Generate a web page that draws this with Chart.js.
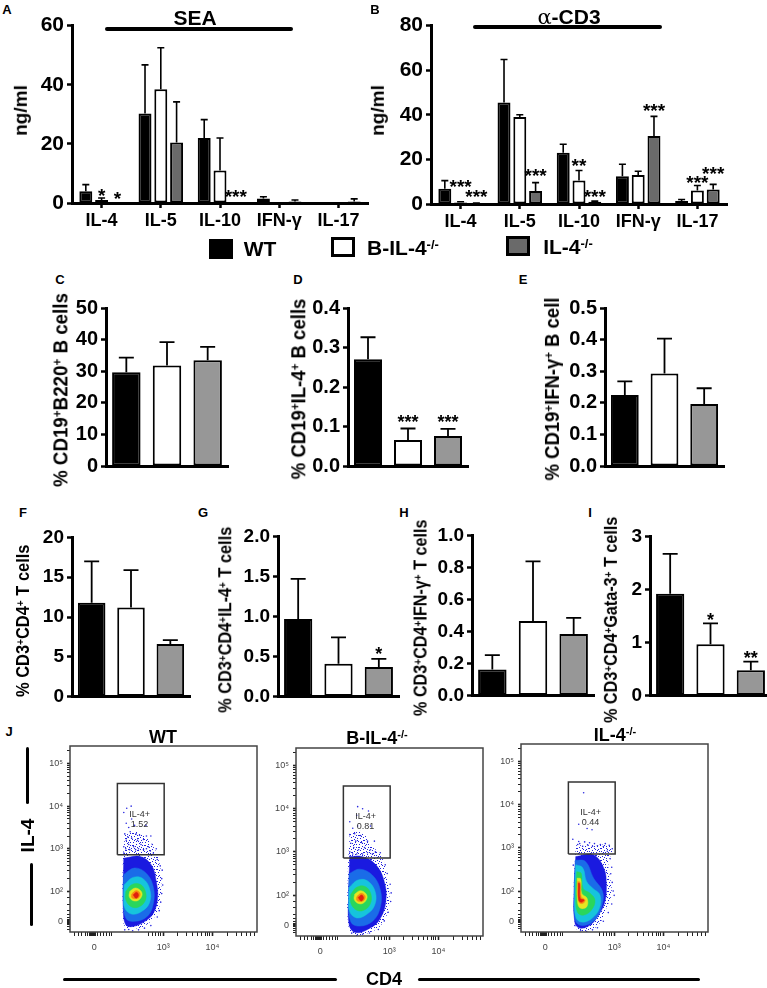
<!DOCTYPE html>
<html><head><meta charset="utf-8">
<script src="https://cdn.jsdelivr.net/npm/chart.js@4"></script>
<style>
html,body{margin:0;padding:0;background:#fff;width:767px;height:988px;overflow:hidden}
#fig{position:relative;width:767px;height:988px;overflow:hidden;font-family:"Liberation Sans",Arial,sans-serif;color:#000}
canvas{position:absolute}
.t{position:absolute;white-space:nowrap;font-weight:bold;line-height:1;transform:translate(-50%,-50%)}
.rot{position:absolute;white-space:nowrap;font-weight:bold;line-height:1}
sup{font-size:.62em;line-height:0;vertical-align:baseline;position:relative;top:-.5em}
.rule{position:absolute;background:#000;border-radius:2px}
.sw{position:absolute;border:3px solid #000;box-sizing:border-box}
</style></head><body><div id="fig"></div>
<script>
// ---------- data ----------
const cytokines=['IL-4','IL-5','IL-10','IFN-γ','IL-17'];
const genotypes=['WT','B-IL-4-/-','IL-4-/-'];

const seaWT=[4,30.3,22,1.5,0];
const seaB=[1,38.5,11,0,0];
const seaKO=[0.2,20.5,0.2,0.5,0.5];
const seaWTTop=[6.2,46.7,28.2,2.1,0];
const seaBTop=[1.7,52.5,22,0,0];
const seaKOTop=[0.2,34.2,0.2,1,1.4];
const seaBStars=['*','','','',''];
const seaBStarAt=[3.4,0,0,0,0];
const seaKOStars=['*','','***','',''];
const seaKOStarAt=[2.4,0,3,0,0];

const cd3WT=[6.8,45.5,23,12.5,1.3];
const cd3B=[0.7,39,10.5,13,6];
const cd3KO=[0.3,5.8,1,30.5,6.5];
const cd3WTTop=[10.5,64.8,26.8,17.8,2];
const cd3BTop=[1,40,15,14.7,8.3];
const cd3KOTop=[0.4,9.6,1.3,39.3,8.8];
const cd3BStars=['***','','**','','***'];
const cd3BStarAt=[8.9,0,18.2,0,11];
const cd3KOStars=['***','***','***','***','***'];
const cd3KOStarAt=[4.4,13.8,4.4,43,14.7];

const cValues=[29.7,31.8,33.5],cTops=[34.3,39.2,37.7];
const dValues=[0.27,0.066,0.076],dTops=[0.326,0.095,0.094],dStars=['','***','***'],dStarAt=[0,0.118,0.118];
const eValues=[0.225,0.293,0.196],eTops=[0.268,0.403,0.246];
const fValues=[11.8,11.2,6.6],fTops=[17,15.9,7.1];
const gValues=[0.97,0.41,0.37],gTops=[1.47,0.74,0.47],gStars=['','','*'],gStarAt=[0,0,0.57];
const hValues=[0.163,0.465,0.385],hTops=[0.253,0.838,0.485];
const iValues=[1.92,0.97,0.48],iTops=[2.67,1.36,0.64],iStars=['','*','**'],iStarAt=[0,1.48,0.76];

// flow plots: x,y in decades of the biexponential axes
const flowYMajor=[1.3,2,3,4,5];
const flowYLabels=['0','10²','10³','10⁴','10⁵'];
const flowXMajor=[1.6,3,4];
const flowXLabels=['0','10³','10⁴'];
const flowYMinor=[1.12,1.18,1.22,1.26,1.28,1.32,1.34,1.38,1.45,1.55,1.7,1.85,2.3,2.48,2.6,2.7,2.78,2.85,2.9,2.95,3.3,3.48,3.6,3.7,3.78,3.85,3.9,3.95,4.3,4.48,4.6,4.7,4.78,4.85,4.9,4.95,5.3];
const flowXMinor=[1.2,1.28,1.35,1.42,1.47,1.5,1.52,1.54,1.56,1.58,1.62,1.66,1.72,1.78,1.84,1.9,1.95,2.7,2.78,2.85,2.9,2.95,3.3,3.48,3.6,3.7,3.78,3.85,3.9,3.95,4.3,4.48,4.6,4.7,4.78,4.85];
const gateCorners=[[2.07,2.86],[3.02,2.86],[3.02,4.53],[2.07,4.53],[2.07,2.86]];

// density contours, outermost to innermost
const wtHalo=[[2.22,3.32],[2.46,3.4],[2.7,3.21],[2.9,2.78],[2.96,2.23],[2.93,1.69],[2.86,1.46],[2.66,1.22],[2.43,1.13],[2.22,1.18],[2.18,1.69],[2.18,2.62]];
const wtBlue=[[2.2,2.78],[2.53,2.82],[2.76,2.62],[2.86,2.23],[2.885,1.84],[2.8,1.49],[2.63,1.3],[2.39,1.18],[2.24,1.22],[2.19,1.61],[2.19,2.23]];
const wtAzure=[[2.2,2.4],[2.42,2.55],[2.66,2.42],[2.8,2.1],[2.8,1.72],[2.68,1.42],[2.42,1.3],[2.24,1.38],[2.19,1.9]];
const wtCyan=[[2.21,2.16],[2.39,2.33],[2.59,2.3],[2.73,2.04],[2.72,1.73],[2.56,1.53],[2.36,1.47],[2.22,1.61],[2.2,1.88]];
const wtGreen=[[2.24,2],[2.36,2.16],[2.53,2.17],[2.64,2],[2.63,1.77],[2.49,1.63],[2.34,1.65],[2.24,1.81]];
const wtYellow=[[2.32,2],[2.43,2.08],[2.54,2.02],[2.57,1.91],[2.49,1.79],[2.38,1.79],[2.31,1.88]];
const wtOrange=[[2.36,1.94],[2.45,2.02],[2.53,1.96],[2.51,1.86],[2.43,1.83],[2.36,1.86]];
const wtRed=[[2.39,1.92],[2.46,1.98],[2.5,1.91],[2.45,1.84]];
const wtSpeck=[[2.2,3.05],[2.3,3.1],[2.4,3.05],[2.55,3.1],[2.7,3.05],[2.25,3.2],[2.36,3.25],[2.48,3.2],[2.6,3.22],[2.78,3.1],[2.86,3.0],[2.22,3.35],[2.33,3.4],[2.45,3.35],[2.28,3.28],[2.52,3.32],[2.66,3.3],[2.3,3.5],[2.42,3.55],[2.25,3.6],[2.36,3.7],[2.2,3.85],[2.65,3.55],[2.75,3.3],[2.26,3.95],[2.35,4.0],[2.8,2.9],[2.88,2.75],[2.94,2.6],[2.98,2.5],[2.97,2.3],[2.99,2.15],[2.97,1.95],[2.95,1.75],[2.92,1.55],[2.88,1.4],[2.75,1.2],[2.62,1.14],[2.5,1.1],[2.38,1.08],[2.3,1.11],[2.22,1.1],[2.2,2.9],[2.24,3.0],[2.32,2.98],[2.44,2.98],[2.5,3.0],[2.6,2.98],[2.66,3.0],[2.74,2.95]];

const bHalo=[[2.2,3.44],[2.43,3.48],[2.63,3.17],[2.86,2.86],[2.97,2.31],[3,1.77],[2.86,1.34],[2.63,1.14],[2.32,1.07],[2.18,1.22],[2.16,2.47]];
const bBlue=[[2.2,2.89],[2.46,2.89],[2.73,2.7],[2.9,2.31],[2.93,1.84],[2.8,1.42],[2.59,1.22],[2.32,1.13],[2.19,1.3],[2.18,2.08]];
const bAzure=[[2.19,2.5],[2.4,2.6],[2.66,2.46],[2.82,2.12],[2.82,1.72],[2.67,1.4],[2.4,1.28],[2.22,1.38],[2.18,1.95]];
const bCyan=[[2.19,2.18],[2.37,2.35],[2.57,2.32],[2.72,2.06],[2.7,1.75],[2.54,1.55],[2.34,1.47],[2.2,1.61],[2.18,1.9]];
const bGreen=[[2.22,2.02],[2.34,2.18],[2.51,2.2],[2.63,2.02],[2.61,1.78],[2.47,1.64],[2.32,1.66],[2.22,1.82]];
const bYellow=[[2.3,2.02],[2.41,2.1],[2.52,2.04],[2.55,1.93],[2.47,1.81],[2.36,1.81],[2.29,1.9]];
const bOrange=[[2.34,1.96],[2.43,2.04],[2.51,1.98],[2.49,1.88],[2.41,1.85],[2.34,1.88]];
const bRed=[[2.37,1.94],[2.44,2],[2.48,1.93],[2.43,1.86]];
const bSpeck=[[2.2,3.0],[2.28,3.1],[2.38,3.05],[2.5,3.1],[2.62,3.05],[2.72,3.0],[2.22,3.2],[2.32,3.25],[2.44,3.22],[2.56,3.25],[2.2,3.4],[2.3,3.42],[2.42,3.38],[2.26,3.55],[2.36,3.6],[2.2,3.7],[2.34,3.85],[2.62,3.6],[2.58,3.95],[2.46,4.0],[2.36,4.05],[2.7,3.25],[2.82,2.98],[2.92,2.7],[2.96,2.5],[3.02,2.25],[3.04,2.05],[3.03,1.85],[2.98,1.6],[2.9,1.4],[2.78,1.2],[2.6,1.12],[2.46,1.09],[2.34,1.06],[2.24,1.12],[2.2,2.9],[2.26,2.95],[2.34,2.95],[2.46,2.95],[2.56,2.98],[2.66,2.95]];

const koHalo=[[2.22,3.06],[2.57,3.06],[2.95,3.04],[2.88,2.61],[2.95,1.98],[2.84,1.6],[2.68,1.21],[2.44,1.08],[2.24,1.11],[2.18,1.98]];
const koBlue=[[2.22,2.8],[2.57,2.84],[2.79,2.53],[2.84,2.14],[2.81,1.75],[2.68,1.44],[2.51,1.21],[2.3,1.14],[2.2,1.28],[2.19,2.14]];
const koAzure=[[2.21,2.72],[2.42,2.68],[2.58,2.3],[2.76,2],[2.76,1.7],[2.6,1.32],[2.35,1.2],[2.21,1.32],[2.19,2]];
const koCyan=[[2.22,2.61],[2.36,2.54],[2.44,2.22],[2.57,2.06],[2.71,1.91],[2.7,1.6],[2.54,1.36],[2.34,1.28],[2.22,1.4],[2.2,1.98]];
const koGreen=[[2.24,2.45],[2.33,2.41],[2.37,2.06],[2.51,1.95],[2.61,1.79],[2.54,1.56],[2.37,1.44],[2.25,1.52],[2.22,1.98]];
const koYellow=[[2.25,2.3],[2.32,2.28],[2.34,1.95],[2.45,1.83],[2.44,1.63],[2.3,1.61],[2.25,1.83]];
const koOrange=[[2.26,2.22],[2.31,2.2],[2.33,1.87],[2.41,1.79],[2.36,1.71],[2.28,1.75]];
const koRed=[[2.27,2.18],[2.3,2.17],[2.31,1.83],[2.39,1.79],[2.33,1.74],[2.28,1.79]];
const koSpeck=[[2.3,3.1],[2.4,3.14],[2.5,3.12],[2.6,3.1],[2.72,3.08],[2.82,3.1],[2.9,3.06],[2.96,2.98],[2.26,3.08],[2.36,3.04],[2.46,3.07],[2.56,3.04],[2.66,3.05],[2.78,3.03],[2.86,2.92],[2.28,3.15],[2.17,2.6],[2.92,2.75],[2.95,2.55],[2.93,2.4],[2.96,2.2],[2.98,2.0],[3.0,1.9],[2.95,1.7],[2.88,1.5],[2.78,1.3],[2.66,1.15],[2.56,1.1],[2.44,1.06],[2.32,1.08],[2.2,1.2],[2.38,4.28],[2.28,3.55],[2.45,3.45],[2.55,3.42],[2.16,3.2]];

const BLACK='#000',WHITE='#fff',GREY_AB='#6a6a6a',GREY='#979797';
const fig=document.getElementById('fig');

// stipple texture for the sparse fringe of the flow clouds
const stippleCells=[[0,1],[3,0],[6,2],[9,1],[1,4],[4,3],[7,5],[10,4],[2,7],[5,6],[8,8],[11,7],[0,10],[3,9],[6,11],[9,10],[2,2],[8,3],[5,9],[11,1],[1,8],[7,10],[4,6],[10,6]];
const stipple=(()=>{
  const t=document.createElement('canvas');t.width=12;t.height=12;
  const x=t.getContext('2d');x.fillStyle='#2222dc';
  stippleCells.forEach(([a,b])=>x.fillRect(a,b,1,1));
  return x.createPattern(t,'repeat');
})();

// ---------- shared plugins ----------
const errorBars={id:'errorBars',afterDatasetsDraw(c,a,o){
  const y=c.scales.y,g=c.ctx;g.save();g.strokeStyle='#000';g.lineWidth=o.lw;
  c.data.datasets.forEach((d,i)=>{
    if(!d.tops)return;
    c.getDatasetMeta(i).data.forEach((el,j)=>{
      if(d.tops[j]<=d.data[j])return;
      const t=y.getPixelForValue(d.tops[j]),b=y.getPixelForValue(d.data[j]);
      g.beginPath();g.moveTo(el.x,b);g.lineTo(el.x,t);g.moveTo(el.x-o.cap,t);g.lineTo(el.x+o.cap,t);g.stroke();
    });
    if(d.stars){
      g.fillStyle='#000';g.textAlign='center';g.textBaseline='middle';
      g.font='bold '+o.star+'px "Liberation Sans"';
      c.getDatasetMeta(i).data.forEach((el,j)=>{
        if(d.stars[j])g.fillText(d.stars[j],el.x,y.getPixelForValue(d.starAt[j])+o.star*0.2);
      });
    }
  });
  g.restore();
}};
const flowDecor={id:'flowDecor',afterDraw(c,a,o){
  const g=c.ctx,A=c.chartArea;g.save();
  g.strokeStyle='#444';g.lineWidth=1.5;g.strokeRect(A.left,A.top,A.right-A.left,A.bottom-A.top);
  g.fillStyle='#333';g.font='9px "Liberation Sans"';g.textAlign='center';g.textBaseline='middle';
  g.fillText('IL-4+',c.scales.x.getPixelForValue(2.52),c.scales.y.getPixelForValue(3.81));
  g.fillText(o.pct,c.scales.x.getPixelForValue(2.52),c.scales.y.getPixelForValue(3.58));
  g.restore();
}};

// ---------- helpers ----------
function mount(L,R,T,B,gutL,gutB,gutT,gutR){
  const cv=document.createElement('canvas');
  cv.width=R-L+gutL+gutR;cv.height=B-T+gutT+gutB;
  cv.style.left=(L-gutL)+'px';cv.style.top=(T-gutT)+'px';
  fig.appendChild(cv);return cv;
}
function barChart(p){
  const gutL=46,gutB=p.labels?34:4,gutT=14,gutR=3;
  const cv=mount(p.L,p.R,p.T,p.B,gutL,gutB,gutT,gutR);
  new Chart(cv,{type:'bar',data:{labels:p.cats,datasets:p.sets},plugins:[errorBars],options:{
    responsive:false,animation:false,
    layout:{autoPadding:false,padding:{top:gutT,right:gutR,left:0,bottom:0}},
    plugins:{legend:{display:false},tooltip:{enabled:false},errorBars:p.err},
    scales:{
      x:{type:'category',afterFit:s=>{s.height=gutB},
        border:{color:'#000',width:3},
        grid:{display:true,drawOnChartArea:false,drawTicks:!!p.labels,tickLength:5,tickColor:'#000',tickWidth:2.5,offset:false},
        ticks:{display:!!p.labels,color:'#000',padding:2,autoSkip:false,maxRotation:0,font:{family:'"Liberation Sans"',weight:'bold',size:18}}},
      y:{min:0,max:p.max,afterFit:s=>{s.width=gutL},
        border:{color:'#000',width:3},
        grid:{display:true,drawOnChartArea:false,tickLength:5,tickColor:'#000',tickWidth:2.5},
        ticks:{stepSize:p.step,color:'#000',padding:3,font:{family:'"Liberation Sans"',weight:'bold',size:p.yFont},callback:v=>v.toFixed(p.dec)}}
    }}});
}
function grouped(L,R,T,B,max,wt,b,ko,wtTop,bTop,koTop,bStars,bAt,koStars,koAt){
  const mk=(name,data,tops,col,stars,at)=>({label:name,data,tops,stars,starAt:at,backgroundColor:col,borderColor:'#000',borderWidth:2,categoryPercentage:0.8,barPercentage:0.82,borderSkipped:false});
  barChart({L,R,T,B,max,step:20,dec:0,yFont:21,labels:true,cats:cytokines,
    sets:[mk(genotypes[0],wt,wtTop,BLACK),mk(genotypes[1],b,bTop,WHITE,bStars,bAt),mk(genotypes[2],ko,koTop,GREY_AB,koStars,koAt)],
    err:{lw:1.6,cap:3.5,star:19}});
}
function triple(L,R,T,B,max,step,dec,vals,tops,stars,at,yFont){
  barChart({L,R,T,B,max,step,dec,yFont,labels:false,cats:genotypes,
    sets:[{label:'%',data:vals,tops,stars,starAt:at,backgroundColor:[BLACK,WHITE,GREY],borderColor:'#000',borderWidth:2,categoryPercentage:1,barPercentage:0.7,borderSkipped:false}],
    err:{lw:1.8,cap:7.5,star:18}});
}
function flow(L,R,T,B,pct,halo,blue,azure,cyan,green,yellow,orange,red,speck){
  const cv=mount(L,R,T,B,45,30,10,8);
  const pts=a=>a.concat([a[0]]).map(([x,y])=>({x,y}));
  const contour=(a,col,edge)=>({data:pts(a),showLine:true,fill:'shape',backgroundColor:col,borderColor:edge||col,borderWidth:0.5,tension:0.4,pointRadius:0,pointHoverRadius:0});
  const yMap=new Map(flowYMajor.map((v,i)=>[v,flowYLabels[i]]));
  const xMap=new Map(flowXMajor.map((v,i)=>[v,flowXLabels[i]]));
  const tickFont={family:'"Liberation Sans"',size:9};
  new Chart(cv,{type:'scatter',data:{datasets:[
    {data:gateCorners.map(([x,y])=>({x,y})),showLine:true,borderColor:'#333',borderWidth:1.5,pointRadius:0,fill:false,tension:0},
    contour(red,'#e0200e'),contour(orange,'#f98a10'),contour(yellow,'#e4e622'),
    contour(green,'#2ad65c'),contour(cyan,'#16c4dc'),contour(azure,'#1a6ce8'),contour(blue,'#1a1ae0'),
    {data:speck.map(([x,y])=>({x,y})),backgroundColor:'#2a2ae0',borderWidth:0,pointRadius:0.8,pointHoverRadius:0.8,showLine:false},
    contour(halo,stipple,'rgba(0,0,0,0)')
  ]},plugins:[flowDecor],options:{responsive:false,animation:false,
    layout:{autoPadding:false,padding:{top:10,right:8,left:0,bottom:0}},
    plugins:{legend:{display:false},tooltip:{enabled:false},flowDecor:{pct}},
    scales:{
      x:{type:'linear',min:1.108,max:4.905,afterFit:s=>{s.height=30},
        afterBuildTicks:s=>{s.ticks=flowXMajor.concat(flowXMinor).sort((a,b)=>a-b).map(value=>({value}))},
        border:{display:false},
        grid:{drawOnChartArea:false,tickLength:4,tickColor:'#222',tickWidth:c=>xMap.has(c.tick&&c.tick.value)?1.6:1},
        ticks:{autoSkip:false,maxRotation:0,color:'#444',padding:6,font:tickFont,callback:v=>xMap.get(v)||''}},
      y:{type:'linear',min:1.05,max:5.41,afterFit:s=>{s.width=45},
        afterBuildTicks:s=>{s.ticks=flowYMajor.concat(flowYMinor).sort((a,b)=>a-b).map(value=>({value}))},
        border:{display:false},
        grid:{drawOnChartArea:false,tickLength:3,tickColor:'#222',tickWidth:c=>yMap.has(c.tick&&c.tick.value)?1.6:1},
        ticks:{autoSkip:false,color:'#444',padding:4,font:tickFont,callback:v=>yMap.get(v)||''}}
    }}});
}
function text(html,x,y,size){
  const d=document.createElement('div');d.className='t';d.innerHTML=html;
  d.style.left=x+'px';d.style.top=y+'px';d.style.fontSize=size+'px';fig.appendChild(d);return d;
}
function vtext(html,x,y,size,len){
  const d=document.createElement('div');d.className='rot';d.innerHTML=html;d.style.fontSize=size+'px';
  fig.appendChild(d);
  const w=d.offsetWidth,h=d.offsetHeight;
  d.style.left=(x-w/2)+'px';d.style.top=(y-h/2)+'px';
  d.style.transform='rotate(-90deg)'+(len?' scaleX('+(len/w)+')':'');
}
function rule(x,y,w,h){
  const d=document.createElement('div');d.className='rule';
  d.style.cssText+='left:'+x+'px;top:'+y+'px;width:'+w+'px;height:'+h+'px';fig.appendChild(d);
}
function swatch(x,y,col){
  const d=document.createElement('div');d.className='sw';
  d.style.cssText+='left:'+x+'px;top:'+y+'px;width:24px;height:20px;background:'+col;fig.appendChild(d);
}

// ---------- panels ----------
grouped(72,368,24,203,60,seaWT,seaB,seaKO,seaWTTop,seaBTop,seaKOTop,seaBStars,seaBStarAt,seaKOStars,seaKOStarAt);
grouped(431,727,24,204,80,cd3WT,cd3B,cd3KO,cd3WTTop,cd3BTop,cd3KOTop,cd3BStars,cd3BStarAt,cd3KOStars,cd3KOStarAt);
triple(106,228,306.5,477,50,10,0,cValues,cTops,null,null,20);
triple(348,468,306.5,477,0.4,0.1,1,dValues,dTops,dStars,dStarAt,20);
triple(605,724,306.5,477,0.5,0.1,1,eValues,eTops,null,null,20);
triple(71.5,190,536.5,707,20,5,0,fValues,fTops,null,null,19);
triple(278,399,536,707,2,0.5,1,gValues,gTops,gStars,gStarAt,19);
triple(472,594,535,706,1,0.2,1,hValues,hTops,null,null,19);
triple(650,771,535.5,706,3,1,0,iValues,iTops,iStars,iStarAt,19);
flow(70,257,746,932,'1.52',wtHalo,wtBlue,wtAzure,wtCyan,wtGreen,wtYellow,wtOrange,wtRed,wtSpeck);
flow(296,483,748,936,'0.81',bHalo,bBlue,bAzure,bCyan,bGreen,bYellow,bOrange,bRed,bSpeck);
flow(521,708,744,932,'0.44',koHalo,koBlue,koAzure,koCyan,koGreen,koYellow,koOrange,koRed,koSpeck);

// ---------- labels ----------
[['A',7,9],['B',375,9],['C',60,279],['D',298,279],['E',523,279],['F',23,512],['G',203,512],['H',404,512],['I',590,512],['J',9,731]]
  .forEach(([s,x,y])=>text(s,x,y,13));
text('SEA',195,17,21);
text('<span style="font-family:\'DejaVu Serif\',serif;font-weight:normal">α</span>-CD3',569,17,21);
rule(105,27,188,4);rule(473,25,189,4);

swatch(209,239,BLACK);swatch(331,237,WHITE);swatch(506,236,GREY_AB);
text('WT',260,248,21);
text('B-IL-4<sup>-/-</sup>',403,247,21);
text('IL-4<sup>-/-</sup>',568,246,21);

vtext('ng/ml',20,110,19,null);
vtext('ng/ml',377,110,19,null);
vtext('% CD19<sup>+</sup>B220<sup>+</sup> B cells',60,390,20,194);
vtext('% CD19<sup>+</sup>IL-4<sup>+</sup> B cells',298,389,20,181);
vtext('% CD19<sup>+</sup>IFN-γ<sup>+</sup> B cell',552,389,20,183);
vtext('% CD3<sup>+</sup>CD4<sup>+</sup> T cells',24,621,17.5,152);
vtext('% CD3<sup>+</sup>CD4<sup>+</sup>IL-4<sup>+</sup> T cells',226,620,17.5,186);
vtext('% CD3<sup>+</sup>CD4<sup>+</sup>IFN-γ<sup>+</sup> T cells',421,618,17.5,197);
vtext('% CD3<sup>+</sup>CD4<sup>+</sup>Gata-3<sup>+</sup> T cells',611,620,17.5,206);

text('WT',163,737,18);
text('B-IL-4<sup>-/-</sup>',377,738,18);
text('IL-4<sup>-/-</sup>',615,735,18);
vtext('IL-4',28,835,19,null);
rule(25.5,747,3,57);rule(29.5,863,3,63);
text('CD4',384,979,18);
rule(63,978,274,3);rule(418,978,282,3);
</script></body></html>
